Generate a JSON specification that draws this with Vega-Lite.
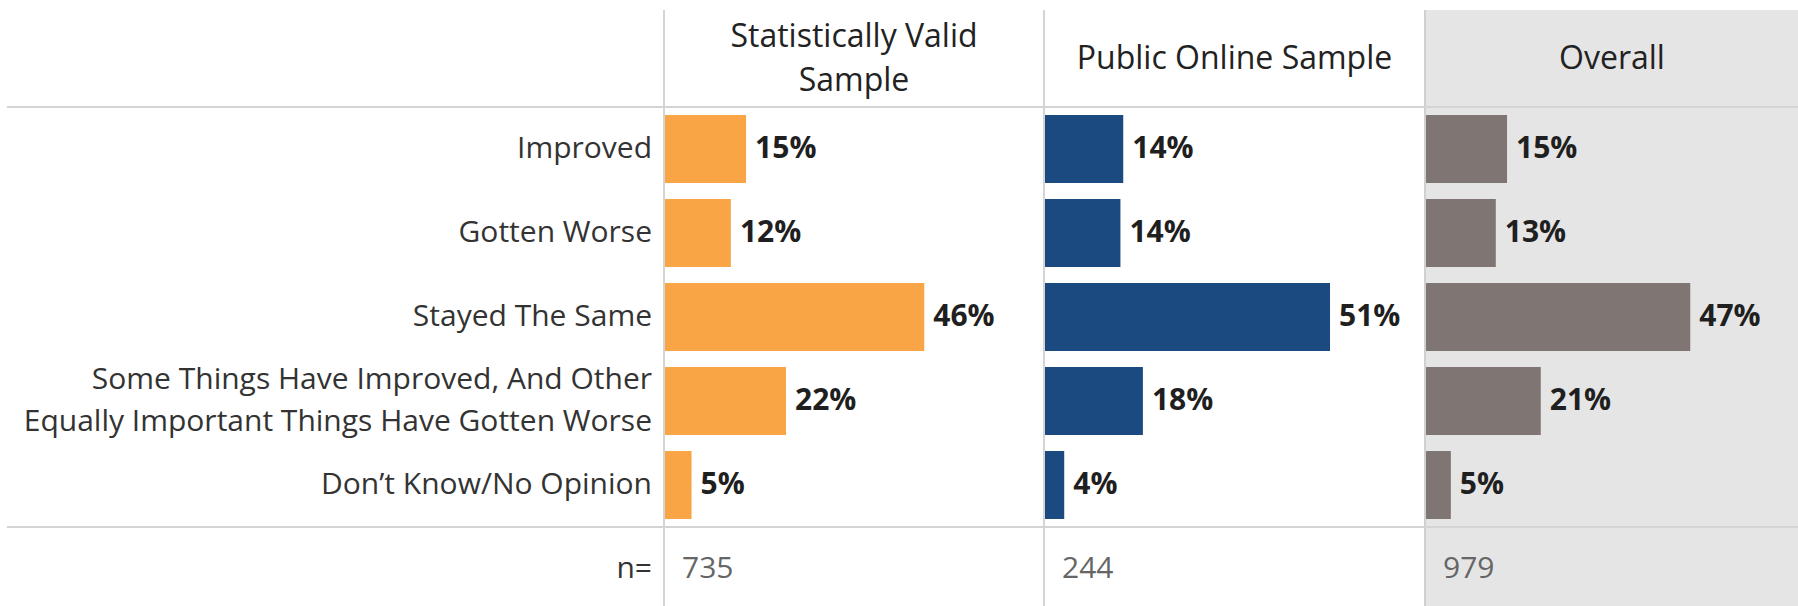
{
  "$schema": "https://vega.github.io/schema/vega-lite/v6.json",
  "padding": {"left": 6, "top": 9, "right": 0, "bottom": 0},
  "background": "white",
  "config": {"view": {"stroke": null}, "text": {"font": "Open Sans"}},
  "datasets": {
    "rows": [
      {"row": "Improved"},
      {"row": "Gotten Worse"},
      {"row": "Stayed The Same"},
      {"row": "Some Things Have Improved, And Other\nEqually Important Things Have Gotten Worse"},
      {"row": "Don’t Know/No Opinion"},
      {"row": "n="}
    ],
    "samples": [
      {"sample": "Statistically Valid Sample", "header": "Statistically Valid\nSample", "n": 735},
      {"sample": "Public Online Sample", "header": "Public Online Sample", "n": 244},
      {"sample": "Overall", "header": "Overall", "n": 979}
    ],
    "responses": [
      {"sample": "Statistically Valid Sample", "answer": "Improved", "pct": 0.146},
      {"sample": "Statistically Valid Sample", "answer": "Gotten Worse", "pct": 0.119},
      {"sample": "Statistically Valid Sample", "answer": "Stayed The Same", "pct": 0.463},
      {"sample": "Statistically Valid Sample", "answer": "Some Things Have Improved, And Other\nEqually Important Things Have Gotten Worse", "pct": 0.217},
      {"sample": "Statistically Valid Sample", "answer": "Don’t Know/No Opinion", "pct": 0.049},
      {"sample": "Public Online Sample", "answer": "Improved", "pct": 0.141},
      {"sample": "Public Online Sample", "answer": "Gotten Worse", "pct": 0.136},
      {"sample": "Public Online Sample", "answer": "Stayed The Same", "pct": 0.509},
      {"sample": "Public Online Sample", "answer": "Some Things Have Improved, And Other\nEqually Important Things Have Gotten Worse", "pct": 0.176},
      {"sample": "Public Online Sample", "answer": "Don’t Know/No Opinion", "pct": 0.036},
      {"sample": "Overall", "answer": "Improved", "pct": 0.146},
      {"sample": "Overall", "answer": "Gotten Worse", "pct": 0.126},
      {"sample": "Overall", "answer": "Stayed The Same", "pct": 0.472},
      {"sample": "Overall", "answer": "Some Things Have Improved, And Other\nEqually Important Things Have Gotten Worse", "pct": 0.206},
      {"sample": "Overall", "answer": "Don’t Know/No Opinion", "pct": 0.046}
    ]
  },
  "columns": 4,
  "spacing": 0,
  "bounds": "flush",
  "align": "each",
  "concat": [
    {
      "width": 657, "height": 97,
      "data": {"values": []},
      "mark": "text",
      "encoding": {}
    },
    {
      "width": 380, "height": 97,
      "data": {"name": "samples"},
      "transform": [{"filter": "datum.sample === 'Statistically Valid Sample'"}],
      "layer": [
        {"mark": {"type": "rule", "color": "#d4d4d4", "strokeWidth": 2},
         "encoding": {"x": {"datum": 0, "type": "quantitative", "scale": {"domain": [0, 1]}, "axis": null}}},
        {"mark": {"type": "text", "fontSize": 32, "lineBreak": "\n", "lineHeight": 44, "dy": -22, "color": "#222222", "baseline": "middle", "align": "center"},
         "encoding": {
           "x": {"datum": 0.5, "type": "quantitative", "scale": {"domain": [0, 1]}, "axis": null},
           "y": {"datum": 0.5, "type": "quantitative", "scale": {"domain": [0, 1]}, "axis": null},
           "text": {"field": "header"}}}
      ]
    },
    {
      "width": 381, "height": 97,
      "data": {"name": "samples"},
      "transform": [{"filter": "datum.sample === 'Public Online Sample'"}],
      "layer": [
        {"mark": {"type": "rule", "color": "#d4d4d4", "strokeWidth": 2},
         "encoding": {"x": {"datum": 0, "type": "quantitative", "scale": {"domain": [0, 1]}, "axis": null}}},
        {"mark": {"type": "text", "fontSize": 32, "lineBreak": "\n", "lineHeight": 44, "color": "#222222", "baseline": "middle", "align": "center"},
         "encoding": {
           "x": {"datum": 0.5, "type": "quantitative", "scale": {"domain": [0, 1]}, "axis": null},
           "y": {"datum": 0.5, "type": "quantitative", "scale": {"domain": [0, 1]}, "axis": null},
           "text": {"field": "header"}}}
      ]
    },
    {
      "width": 374, "height": 97,
      "view": {"fill": "#e5e5e5", "stroke": null},
      "data": {"name": "samples"},
      "transform": [{"filter": "datum.sample === 'Overall'"}],
      "layer": [
        {"mark": {"type": "rule", "color": "#d0d0d0", "strokeWidth": 2},
         "encoding": {"x": {"datum": 0, "type": "quantitative", "scale": {"domain": [0, 1]}, "axis": null}}},
        {"mark": {"type": "text", "fontSize": 32, "lineBreak": "\n", "lineHeight": 44, "color": "#222222", "baseline": "middle", "align": "center"},
         "encoding": {
           "x": {"datum": 0.5, "type": "quantitative", "scale": {"domain": [0, 1]}, "axis": null},
           "y": {"datum": 0.5, "type": "quantitative", "scale": {"domain": [0, 1]}, "axis": null},
           "text": {"field": "header"}}}
      ]
    },
    {
      "width": 657, "height": 500,
      "layer": [
        {"data": {"name": "rows"},
         "transform": [{"filter": "indexof(datum.row, 'Equally') < 0"}],
         "mark": {"type": "text", "align": "right", "dx": -12, "fontSize": 30, "lineBreak": "\n", "lineHeight": 42, "color": "#333333", "baseline": "middle"},
         "encoding": {
           "y": {"field": "row", "type": "nominal", "scale": {"domain": ["Improved", "Gotten Worse", "Stayed The Same", "Some Things Have Improved, And Other\nEqually Important Things Have Gotten Worse", "Don’t Know/No Opinion", "n="], "range": [0, 504], "paddingInner": 0, "paddingOuter": 0}, "axis": null},
           "x": {"datum": 1, "type": "quantitative", "scale": {"domain": [0, 1]}, "axis": null},
           "text": {"field": "row"}}},
        {"data": {"name": "rows"},
         "transform": [{"filter": "indexof(datum.row, 'Equally') >= 0"}],
         "mark": {"type": "text", "align": "right", "dx": -12, "dy": -21, "fontSize": 30, "lineBreak": "\n", "lineHeight": 42, "color": "#333333", "baseline": "middle"},
         "encoding": {
           "y": {"field": "row", "type": "nominal", "scale": {"domain": ["Improved", "Gotten Worse", "Stayed The Same", "Some Things Have Improved, And Other\nEqually Important Things Have Gotten Worse", "Don’t Know/No Opinion", "n="], "range": [0, 504], "paddingInner": 0, "paddingOuter": 0}, "axis": null},
           "x": {"datum": 1, "type": "quantitative", "scale": {"domain": [0, 1]}, "axis": null},
           "text": {"field": "row"}}},
        {"data": {"values": [{}]},
         "mark": {"type": "rule", "color": "#d4d4d4", "strokeWidth": 2},
         "encoding": {"y": {"datum": "Improved", "type": "nominal", "bandPosition": 0, "scale": {"domain": ["Improved", "Gotten Worse", "Stayed The Same", "Some Things Have Improved, And Other\nEqually Important Things Have Gotten Worse", "Don’t Know/No Opinion", "n="], "range": [0, 504], "paddingInner": 0, "paddingOuter": 0}, "axis": null}}},
        {"data": {"values": [{}]},
         "mark": {"type": "rule", "color": "#d4d4d4", "strokeWidth": 2},
         "encoding": {"y": {"datum": "n=", "type": "nominal", "bandPosition": 0, "scale": {"domain": ["Improved", "Gotten Worse", "Stayed The Same", "Some Things Have Improved, And Other\nEqually Important Things Have Gotten Worse", "Don’t Know/No Opinion", "n="], "range": [0, 504], "paddingInner": 0, "paddingOuter": 0}, "axis": null}}}
      ]
    },
    {
      "width": 380, "height": 500,
      "layer": [
        {"data": {"name": "responses"},
         "transform": [{"filter": "datum.sample === 'Statistically Valid Sample'"}],
         "mark": {"type": "bar", "color": "#f9a546", "height": {"band": 0.81}},
         "encoding": {
           "y": {"field": "answer", "type": "nominal", "scale": {"domain": ["Improved", "Gotten Worse", "Stayed The Same", "Some Things Have Improved, And Other\nEqually Important Things Have Gotten Worse", "Don’t Know/No Opinion", "n="], "range": [0, 504], "paddingInner": 0, "paddingOuter": 0}, "axis": null},
           "x": {"field": "pct", "type": "quantitative", "scale": {"domain": [0, 0.676], "nice": false}, "axis": null}}},
        {"data": {"name": "responses"},
         "transform": [{"filter": "datum.sample === 'Statistically Valid Sample'"}],
         "mark": {"type": "text", "align": "left", "dx": 9, "fontSize": 30, "fontWeight": "bold", "color": "#1f1f1f", "baseline": "middle"},
         "encoding": {
           "y": {"field": "answer", "type": "nominal", "scale": {"domain": ["Improved", "Gotten Worse", "Stayed The Same", "Some Things Have Improved, And Other\nEqually Important Things Have Gotten Worse", "Don’t Know/No Opinion", "n="], "range": [0, 504], "paddingInner": 0, "paddingOuter": 0}, "axis": null},
           "x": {"field": "pct", "type": "quantitative", "scale": {"domain": [0, 0.676], "nice": false}, "axis": null},
           "text": {"field": "pct", "format": ".0%"}}},
        {"data": {"name": "samples"},
         "transform": [{"filter": "datum.sample === 'Statistically Valid Sample'"}],
         "mark": {"type": "text", "align": "left", "dx": 18, "fontSize": 30, "color": "#666666", "baseline": "middle"},
         "encoding": {
           "y": {"datum": "n=", "type": "nominal", "scale": {"domain": ["Improved", "Gotten Worse", "Stayed The Same", "Some Things Have Improved, And Other\nEqually Important Things Have Gotten Worse", "Don’t Know/No Opinion", "n="], "range": [0, 504], "paddingInner": 0, "paddingOuter": 0}, "axis": null},
           "x": {"datum": 0, "type": "quantitative", "scale": {"domain": [0, 0.676], "nice": false}, "axis": null},
           "text": {"field": "n"}}},
        {"data": {"values": [{}]},
         "mark": {"type": "rule", "color": "#d4d4d4", "strokeWidth": 2},
         "encoding": {"x": {"datum": 0, "type": "quantitative", "scale": {"domain": [0, 0.676], "nice": false}, "axis": null}}},
        {"data": {"values": [{}]},
         "mark": {"type": "rule", "color": "#d4d4d4", "strokeWidth": 2},
         "encoding": {"y": {"datum": "Improved", "type": "nominal", "bandPosition": 0, "scale": {"domain": ["Improved", "Gotten Worse", "Stayed The Same", "Some Things Have Improved, And Other\nEqually Important Things Have Gotten Worse", "Don’t Know/No Opinion", "n="], "range": [0, 504], "paddingInner": 0, "paddingOuter": 0}, "axis": null}}},
        {"data": {"values": [{}]},
         "mark": {"type": "rule", "color": "#d4d4d4", "strokeWidth": 2},
         "encoding": {"y": {"datum": "n=", "type": "nominal", "bandPosition": 0, "scale": {"domain": ["Improved", "Gotten Worse", "Stayed The Same", "Some Things Have Improved, And Other\nEqually Important Things Have Gotten Worse", "Don’t Know/No Opinion", "n="], "range": [0, 504], "paddingInner": 0, "paddingOuter": 0}, "axis": null}}}
      ]
    },
    {
      "width": 381, "height": 500,
      "layer": [
        {"data": {"name": "responses"},
         "transform": [{"filter": "datum.sample === 'Public Online Sample'"}],
         "mark": {"type": "bar", "color": "#1b4a80", "height": {"band": 0.81}},
         "encoding": {
           "y": {"field": "answer", "type": "nominal", "scale": {"domain": ["Improved", "Gotten Worse", "Stayed The Same", "Some Things Have Improved, And Other\nEqually Important Things Have Gotten Worse", "Don’t Know/No Opinion", "n="], "range": [0, 504], "paddingInner": 0, "paddingOuter": 0}, "axis": null},
           "x": {"field": "pct", "type": "quantitative", "scale": {"domain": [0, 0.678], "nice": false}, "axis": null}}},
        {"data": {"name": "responses"},
         "transform": [{"filter": "datum.sample === 'Public Online Sample'"}],
         "mark": {"type": "text", "align": "left", "dx": 9, "fontSize": 30, "fontWeight": "bold", "color": "#1f1f1f", "baseline": "middle"},
         "encoding": {
           "y": {"field": "answer", "type": "nominal", "scale": {"domain": ["Improved", "Gotten Worse", "Stayed The Same", "Some Things Have Improved, And Other\nEqually Important Things Have Gotten Worse", "Don’t Know/No Opinion", "n="], "range": [0, 504], "paddingInner": 0, "paddingOuter": 0}, "axis": null},
           "x": {"field": "pct", "type": "quantitative", "scale": {"domain": [0, 0.678], "nice": false}, "axis": null},
           "text": {"field": "pct", "format": ".0%"}}},
        {"data": {"name": "samples"},
         "transform": [{"filter": "datum.sample === 'Public Online Sample'"}],
         "mark": {"type": "text", "align": "left", "dx": 18, "fontSize": 30, "color": "#666666", "baseline": "middle"},
         "encoding": {
           "y": {"datum": "n=", "type": "nominal", "scale": {"domain": ["Improved", "Gotten Worse", "Stayed The Same", "Some Things Have Improved, And Other\nEqually Important Things Have Gotten Worse", "Don’t Know/No Opinion", "n="], "range": [0, 504], "paddingInner": 0, "paddingOuter": 0}, "axis": null},
           "x": {"datum": 0, "type": "quantitative", "scale": {"domain": [0, 0.678], "nice": false}, "axis": null},
           "text": {"field": "n"}}},
        {"data": {"values": [{}]},
         "mark": {"type": "rule", "color": "#d4d4d4", "strokeWidth": 2},
         "encoding": {"x": {"datum": 0, "type": "quantitative", "scale": {"domain": [0, 0.678], "nice": false}, "axis": null}}},
        {"data": {"values": [{}]},
         "mark": {"type": "rule", "color": "#d4d4d4", "strokeWidth": 2},
         "encoding": {"y": {"datum": "Improved", "type": "nominal", "bandPosition": 0, "scale": {"domain": ["Improved", "Gotten Worse", "Stayed The Same", "Some Things Have Improved, And Other\nEqually Important Things Have Gotten Worse", "Don’t Know/No Opinion", "n="], "range": [0, 504], "paddingInner": 0, "paddingOuter": 0}, "axis": null}}},
        {"data": {"values": [{}]},
         "mark": {"type": "rule", "color": "#d4d4d4", "strokeWidth": 2},
         "encoding": {"y": {"datum": "n=", "type": "nominal", "bandPosition": 0, "scale": {"domain": ["Improved", "Gotten Worse", "Stayed The Same", "Some Things Have Improved, And Other\nEqually Important Things Have Gotten Worse", "Don’t Know/No Opinion", "n="], "range": [0, 504], "paddingInner": 0, "paddingOuter": 0}, "axis": null}}}
      ]
    },
    {
      "width": 374, "height": 500,
      "view": {"fill": "#e5e5e5", "stroke": null},
      "layer": [
        {"data": {"name": "responses"},
         "transform": [{"filter": "datum.sample === 'Overall'"}],
         "mark": {"type": "bar", "color": "#7f7673", "height": {"band": 0.81}},
         "encoding": {
           "y": {"field": "answer", "type": "nominal", "scale": {"domain": ["Improved", "Gotten Worse", "Stayed The Same", "Some Things Have Improved, And Other\nEqually Important Things Have Gotten Worse", "Don’t Know/No Opinion", "n="], "range": [0, 504], "paddingInner": 0, "paddingOuter": 0}, "axis": null},
           "x": {"field": "pct", "type": "quantitative", "scale": {"domain": [0, 0.6655], "nice": false}, "axis": null}}},
        {"data": {"name": "responses"},
         "transform": [{"filter": "datum.sample === 'Overall'"}],
         "mark": {"type": "text", "align": "left", "dx": 9, "fontSize": 30, "fontWeight": "bold", "color": "#1f1f1f", "baseline": "middle"},
         "encoding": {
           "y": {"field": "answer", "type": "nominal", "scale": {"domain": ["Improved", "Gotten Worse", "Stayed The Same", "Some Things Have Improved, And Other\nEqually Important Things Have Gotten Worse", "Don’t Know/No Opinion", "n="], "range": [0, 504], "paddingInner": 0, "paddingOuter": 0}, "axis": null},
           "x": {"field": "pct", "type": "quantitative", "scale": {"domain": [0, 0.6655], "nice": false}, "axis": null},
           "text": {"field": "pct", "format": ".0%"}}},
        {"data": {"name": "samples"},
         "transform": [{"filter": "datum.sample === 'Overall'"}],
         "mark": {"type": "text", "align": "left", "dx": 18, "fontSize": 30, "color": "#666666", "baseline": "middle"},
         "encoding": {
           "y": {"datum": "n=", "type": "nominal", "scale": {"domain": ["Improved", "Gotten Worse", "Stayed The Same", "Some Things Have Improved, And Other\nEqually Important Things Have Gotten Worse", "Don’t Know/No Opinion", "n="], "range": [0, 504], "paddingInner": 0, "paddingOuter": 0}, "axis": null},
           "x": {"datum": 0, "type": "quantitative", "scale": {"domain": [0, 0.6655], "nice": false}, "axis": null},
           "text": {"field": "n"}}},
        {"data": {"values": [{}]},
         "mark": {"type": "rule", "color": "#d0d0d0", "strokeWidth": 2},
         "encoding": {"x": {"datum": 0, "type": "quantitative", "scale": {"domain": [0, 0.6655], "nice": false}, "axis": null}}},
        {"data": {"values": [{}]},
         "mark": {"type": "rule", "color": "#d4d4d4", "strokeWidth": 2},
         "encoding": {"y": {"datum": "Improved", "type": "nominal", "bandPosition": 0, "scale": {"domain": ["Improved", "Gotten Worse", "Stayed The Same", "Some Things Have Improved, And Other\nEqually Important Things Have Gotten Worse", "Don’t Know/No Opinion", "n="], "range": [0, 504], "paddingInner": 0, "paddingOuter": 0}, "axis": null}}},
        {"data": {"values": [{}]},
         "mark": {"type": "rule", "color": "#d4d4d4", "strokeWidth": 2},
         "encoding": {"y": {"datum": "n=", "type": "nominal", "bandPosition": 0, "scale": {"domain": ["Improved", "Gotten Worse", "Stayed The Same", "Some Things Have Improved, And Other\nEqually Important Things Have Gotten Worse", "Don’t Know/No Opinion", "n="], "range": [0, 504], "paddingInner": 0, "paddingOuter": 0}, "axis": null}}}
      ]
    }
  ]
}
